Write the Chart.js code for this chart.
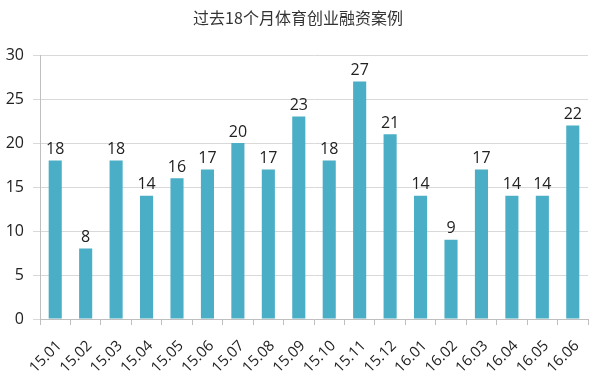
<!DOCTYPE html>
<html>
<head>
<meta charset="utf-8">
<script src="https://cdn.jsdelivr.net/npm/chart.js@4"></script>
<style>
  html, body { margin: 0; padding: 0; background: #fff; }
  #wrap { width: 600px; height: 380px; }
</style>
</head>
<body>
<div id="wrap"><canvas id="chart"></canvas></div>
<script>
const title = "过去18个月体育创业融资案例";
const months = ["15.01", "15.02", "15.03", "15.04", "15.05", "15.06", "15.07", "15.08", "15.09",
  "15.10", "15.11", "15.12", "16.01", "16.02", "16.03", "16.04", "16.05", "16.06"];
const cases = [18, 8, 18, 14, 16, 17, 20, 17, 23, 18, 27, 21, 14, 9, 17, 14, 14, 22];

const barColor = "#4aaec6";
const textColor = "#222";

// value labels above the bars + title
const valueLabels = {
  id: "valueLabels",
  afterDatasetsDraw(chart) {
    const ctx = chart.ctx;
    const meta = chart.getDatasetMeta(0);
    ctx.save();
    ctx.font = "16px 'Open Sans', sans-serif";
    ctx.fillStyle = textColor;
    ctx.textAlign = "center";
    ctx.textBaseline = "bottom";
    meta.data.forEach((bar, i) => {
      ctx.fillText(cases[i], bar.x, bar.y - 3);
    });
    ctx.font = "16px 'Noto Sans CJK SC', sans-serif";
    ctx.fillStyle = "#333";
    ctx.textBaseline = "middle";
    ctx.fillText(title, 298, 18);
    ctx.restore();
  }
};

new Chart(document.getElementById("chart"), {
  type: "bar",
  data: {
    labels: months,
    datasets: [{
      data: cases,
      backgroundColor: barColor,
      categoryPercentage: 1,
      barPercentage: 0.43
    }]
  },
  options: {
    responsive: true,
    maintainAspectRatio: false,
    animation: false,
    layout: { padding: { top: 55, right: 12, left: 0, bottom: 0 } },
    plugins: { legend: { display: false }, tooltip: { enabled: false }, title: { display: false } },
    scales: {
      x: {
        grid: { display: true, drawOnChartArea: false, offset: true, tickLength: 6, color: "#bfbfbf" },
        border: { color: "#bfbfbf" },
        ticks: { color: textColor, font: { family: "Open Sans", size: 15 }, minRotation: 45, maxRotation: 45, padding: 12, labelOffset: 4 },
        afterFit(scale) { scale.height = 61; }
      },
      y: {
        min: 0, max: 30,
        grid: { color: "#d9d9d9", tickLength: 7 },
        border: { color: "#bfbfbf" },
        ticks: { stepSize: 5, color: textColor, font: { family: "Open Sans", size: 16 }, padding: 9 },
        afterFit(scale) { scale.width = 40; }
      }
    }
  },
  plugins: [valueLabels]
});
</script>
</body>
</html>
